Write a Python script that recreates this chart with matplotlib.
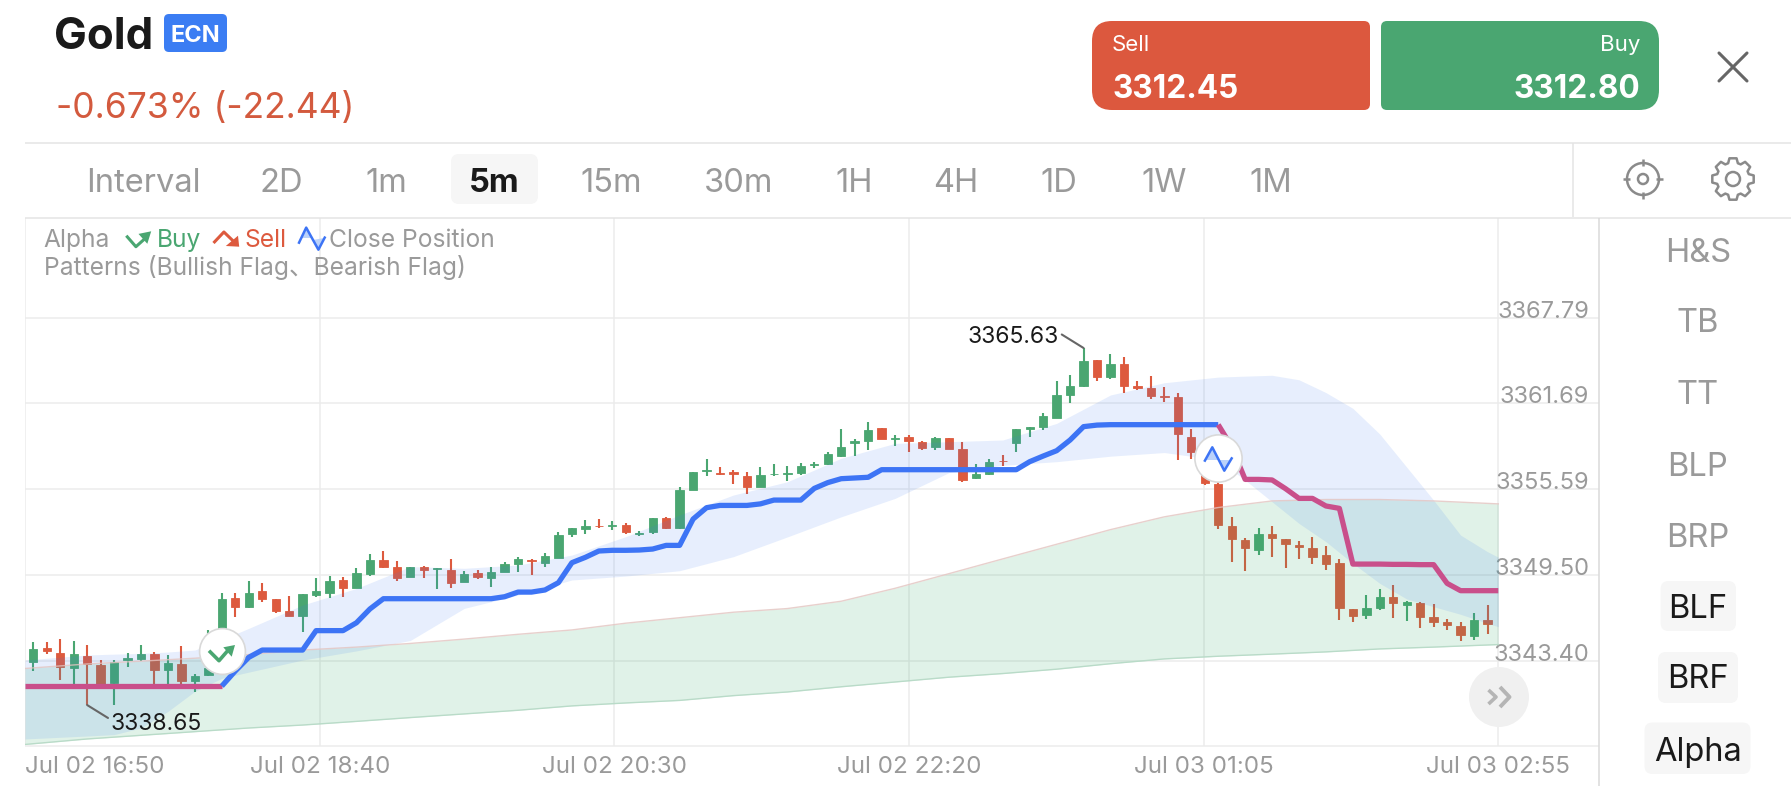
import numpy as np
import matplotlib
matplotlib.use("Agg")
import matplotlib.pyplot as plt
from matplotlib.patches import FancyBboxPatch, PathPatch, Circle, Polygon
from matplotlib.path import Path

plt.rcParams['font.family'] = ['Inter', 'Noto Sans CJK SC', 'DejaVu Sans']

W, H = 1791, 786
GREEN, RED, BLUE, PINK = '#4AA671', '#DD5A3E', '#3D74F5', '#C94F8B'
GREY, DARK, GRID = '#9A9A9A', '#1A1A1A', '#ECECEC'

opens = [
 3343.33,3344.28,3343.97,3342.91,3343.74,3343.10,3341.79,3343.45,3343.52,3343.88,
 3342.74,3343.14,3341.94,3342.39,3342.98,3347.83,3347.24,3348.36,3347.79,3346.96,
 3346.60,3348.07,3348.19,3349.14,3348.59,3349.59,3350.58,3350.04,3349.33,3350.09,
 3349.92,3349.85,3349.00,3349.66,3349.28,3349.68,3350.27,3350.56,3350.32,3350.72,
 3352.38,3352.74,3353.00,3352.95,3353.05,3352.43,3352.52,3353.52,3352.86,3355.53,
 3356.86,3356.77,3356.79,3356.55,3355.72,3356.65,3356.70,3356.72,3357.29,3357.38,
 3357.98,3358.85,3359.02,3359.94,3359.16,3359.28,3358.95,3358.57,3359.23,3358.42,
 3356.36,3356.67,3357.62,3358.90,3359.89,3359.99,3360.68,3362.31,3362.93,3364.75,
 3363.54,3364.51,3362.90,3362.77,3362.25,3362.17,3359.32,3357.67,3355.96,3353.00,
 3351.98,3351.27,3352.41,3352.03,3351.65,3351.41,3350.91,3350.37,3347.05,3346.67,
 3347.15,3347.93,3347.38,3347.53,3346.53,3346.15,3345.89,3345.18,3346.30]
closes = [
 3344.23,3344.11,3342.98,3343.85,3343.17,3341.60,3343.33,3343.57,3343.85,3342.74,
 3343.21,3341.98,3342.34,3342.86,3347.76,3347.24,3348.19,3347.79,3346.93,3346.60,
 3348.12,3348.38,3349.07,3348.59,3349.66,3350.58,3350.06,3349.26,3350.09,3349.85,
 3349.97,3348.95,3349.54,3349.33,3349.73,3350.25,3350.61,3350.51,3350.84,3352.31,
 3352.81,3352.97,3352.95,3353.05,3352.52,3352.48,3353.52,3352.86,3355.53,3356.79,
 3356.93,3356.69,3356.65,3355.72,3356.60,3356.70,3356.74,3357.24,3357.36,3358.07,
 3358.59,3359.04,3359.80,3359.14,3359.23,3358.99,3358.54,3359.21,3358.45,3356.25,
 3356.67,3357.55,3357.58,3359.85,3359.99,3360.79,3362.29,3362.95,3364.68,3363.59,
 3364.51,3362.93,3362.80,3362.25,3362.17,3359.51,3358.26,3356.06,3353.07,3352.05,
 3351.39,3352.38,3352.12,3351.67,3351.48,3350.80,3350.27,3347.17,3346.58,3347.17,
 3347.91,3347.48,3347.55,3346.53,3346.15,3345.92,3345.25,3346.30,3346.03]
highs = [
 3344.71,3344.71,3344.94,3344.80,3344.52,3343.45,3343.45,3343.93,3344.54,3344.00,
 3343.81,3344.42,3342.46,3345.56,3348.19,3348.19,3349.09,3348.95,3347.79,3348.02,
 3348.12,3349.26,3349.42,3349.37,3349.97,3350.97,3351.23,3350.49,3350.09,3350.13,
 3349.97,3350.63,3349.78,3349.85,3350.09,3350.39,3350.80,3350.61,3351.03,3352.52,
 3352.86,3353.40,3353.45,3353.33,3353.21,3352.60,3353.54,3353.62,3355.72,3356.79,
 3357.76,3357.19,3356.93,3356.84,3357.19,3357.38,3357.26,3357.48,3357.52,3358.24,
 3359.87,3359.14,3360.34,3359.94,3359.42,3359.42,3359.02,3359.28,3359.23,3358.92,
 3357.36,3357.74,3358.02,3359.89,3359.99,3361.01,3363.28,3363.71,3365.63,3364.80,
 3365.20,3364.96,3363.27,3363.63,3362.85,3362.41,3359.85,3357.90,3356.24,3353.64,
 3352.10,3352.81,3352.98,3352.03,3351.91,3352.19,3351.55,3350.65,3347.05,3348.07,
 3348.52,3348.78,3347.67,3347.57,3347.46,3346.37,3346.18,3346.77,3347.34]
lows = [
 3342.69,3343.88,3342.03,3341.60,3340.25,3341.37,3340.25,3342.93,3343.40,3341.75,
 3341.75,3341.75,3341.20,3342.31,3342.86,3346.48,3347.12,3347.60,3346.81,3346.60,
 3345.46,3347.91,3347.88,3347.95,3348.54,3349.40,3349.98,3349.09,3349.33,3349.30,
 3348.47,3348.55,3349.00,3349.19,3348.64,3349.68,3349.73,3349.52,3350.09,3350.68,
 3352.19,3352.43,3352.81,3352.69,3352.41,3352.24,3352.41,3352.74,3352.74,3355.53,
 3356.55,3356.58,3355.96,3355.25,3355.72,3356.53,3356.17,3356.62,3357.10,3357.29,
 3357.88,3357.98,3358.38,3359.14,3358.69,3358.21,3358.35,3358.35,3358.45,3356.13,
 3356.34,3356.62,3357.24,3358.21,3359.33,3359.80,3360.63,3361.74,3362.88,3363.28,
 3363.45,3362.45,3362.67,3361.99,3361.81,3357.68,3357.74,3355.89,3352.74,3350.44,
 3349.80,3350.91,3350.80,3350.01,3350.65,3350.30,3349.82,3346.27,3346.13,3346.39,
 3346.98,3346.44,3346.20,3345.73,3345.82,3345.56,3344.83,3344.85,3345.28]
signal_line = [
 3341.60,3341.60,3341.60,3341.60,3341.60,3341.60,3341.60,3341.60,3341.60,3341.60,
 3341.60,3341.60,3341.60,3341.60,3341.60,3342.67,3343.64,3344.16,3344.16,3344.16,
 3344.16,3345.54,3345.54,3345.54,3346.10,3347.08,3347.81,3347.81,3347.81,3347.81,
 3347.81,3347.81,3347.81,3347.81,3347.81,3347.95,3348.28,3348.28,3348.43,3348.95,
 3350.37,3350.75,3351.20,3351.25,3351.25,3351.27,3351.34,3351.60,3351.60,3353.47,
 3354.28,3354.44,3354.44,3354.44,3354.55,3354.82,3354.82,3354.82,3355.65,3356.06,
 3356.34,3356.39,3356.44,3356.98,3356.98,3356.98,3356.98,3356.98,3356.98,3356.98,
 3356.98,3356.98,3356.98,3356.98,3357.55,3357.95,3358.33,3359.09,3360.04,3360.15,
 3360.18,3360.18,3360.18,3360.18,3360.18,3360.18,3360.18,3360.18,3360.18,3358.61,
 3356.29,3356.29,3356.25,3355.63,3354.94,3354.94,3354.40,3354.23,3350.27,3350.27,
 3350.27,3350.25,3350.25,3350.23,3350.23,3348.90,3348.38,3348.38,3348.38]

blue_x = [-0.617,4,6,8,10,12,14,16,20,24,28,32,36,40,44,48,52,56,60,64,68,72,76,80,84,88,
          90,92,94,96,98,100,102,104,106,108,108.8]
blue_upper = [3343.45,3343.81,3343.87,3343.92,3344.02,3344.16,3344.90,3345.70,3347.36,3348.54,3350.09,3349.97,3350.20,
              3350.91,3352.22,3353.76,3355.18,3356.12,3357.79,3358.85,3358.97,3359.09,3360.27,
              3362.29,3363.16,3363.56,3363.63,3363.69,3363.37,3362.46,3361.34,3359.51,3357.16,3354.81,3352.33,3351.15,3350.76]
blue_lower = [3337.84,3338.05,3338.15,3338.62,3339.80,3341.23,3342.15,3342.59,3343.45,3344.10,3344.84,3347.12,3348.07,
              3349.14,3349.42,3349.80,3350.80,3352.20,3353.63,3354.94,3356.77,3357.29,3357.55,
              3357.94,3358.20,3357.67,3356.24,3354.70,3353.16,3351.86,3350.32,3348.90,3347.79,3347.24,3346.70,3346.06,3345.82]
green_x = [-0.617,4,8,12,16,20,24,28,32,36,40,44,48,52,56,60,64,68,72,76,80,84,88,92,96,100,104,108.8]
green_upper = [3342.85,3343.17,3343.37,3343.58,3343.84,3344.16,3344.37,3344.63,3344.94,3345.28,
               3345.59,3346.07,3346.46,3346.85,3347.11,3347.63,3348.55,3349.59,3350.64,3351.68,
               3352.72,3353.63,3354.29,3354.76,3354.86,3354.86,3354.76,3354.55]
green_lower = [3337.45,3337.84,3338.10,3338.36,3338.62,3338.83,3339.09,3339.36,3339.62,3339.88,
               3340.19,3340.40,3340.58,3340.92,3341.18,3341.55,3341.89,3342.23,3342.49,3342.80,
               3343.19,3343.53,3343.72,3343.87,3344.03,3344.24,3344.37,3344.55]

price_ticks = [3343.40, 3349.50, 3355.59, 3361.69, 3367.79]
price_labels = ['3343.40', '3349.50', '3355.59', '3361.69', '3367.79']
time_ticks = [-0.617, 21.29, 43.16, 65.03, 86.94, 108.8]
time_labels = ['Jul 02 16:50', 'Jul 02 18:40', 'Jul 02 20:30', 'Jul 02 22:20', 'Jul 03 01:05', 'Jul 03 02:55']
intervals = ['2D', '1m', '5m', '15m', '30m', '1H', '4H', '1D', '1W', '1M']
interval_centers = [281, 386, 494, 611, 739, 854, 956, 1059, 1164, 1271]
menu_items = ['H&S', 'TB', 'TT', 'BLP', 'BRP', 'BLF', 'BRF', 'Alpha']
menu_centers = [250, 321, 393, 464, 535.5, 607, 677, 750]
BUY_INDEX, CLOSE_INDEX = 14, 88

fig = plt.figure(figsize=(W / 100, H / 100), dpi=100, facecolor='white')
ax = fig.add_axes([25 / W, 1 - 746 / H, (1599 - 25) / W, (746 - 218) / H], zorder=1)
ax.set_xlim(-0.617, 116.28)
ax.set_ylim(3337.34, 3374.87)
for s in ax.spines.values():
    s.set_visible(False)

ax.set_yticks(price_ticks, price_labels)
ax.set_xticks(time_ticks, time_labels)
ax.grid(True, color=GRID, lw=1.1)
ax.set_axisbelow(True)
ax.tick_params(axis='y', length=0, labelleft=False, labelright=True, pad=-7.2, labelsize=17, labelcolor=GREY)
ax.tick_params(axis='x', length=0, pad=7.5, labelsize=17.4, labelcolor=GREY)
for t in ax.get_yticklabels():
    t.set_ha('right')
    t.set_va('baseline')
ax.get_xticklabels()[0].set_ha('left')

idx = np.arange(len(opens))
o, c, h, l = map(np.array, (opens, closes, highs, lows))
cols = [GREEN if b >= a else RED for a, b in zip(o, c)]
ax.vlines(idx, l, h, colors=cols, lw=1.5, zorder=2)
ax.bar(idx, np.abs(c - o), bottom=np.minimum(o, c), width=0.62, color=cols,
       edgecolor=cols, linewidth=0.6, zorder=2)

ax.fill_between(green_x, green_lower, green_upper, color='#2FA868', alpha=0.15, lw=0, zorder=3)
ax.fill_between(blue_x, blue_lower, blue_upper, color='#3A78F2', alpha=0.12, lw=0, zorder=3)
ax.plot(green_x, green_upper, color='#E3C4C0', lw=1.0, alpha=0.8, zorder=3)
ax.plot(green_x, green_lower, color='#B9DBC8', lw=1.0, zorder=3)

line = np.array(signal_line)
LW = 3.8
ax.plot([-0.617] + list(idx[:BUY_INDEX + 1]), [line[0]] + list(line[:BUY_INDEX + 1]),
        color=PINK, lw=LW, zorder=4, solid_joinstyle='round', solid_capstyle='butt')
ax.plot(idx[BUY_INDEX:CLOSE_INDEX + 1], line[BUY_INDEX:CLOSE_INDEX + 1], color=BLUE, lw=LW,
        zorder=4, solid_joinstyle='round', solid_capstyle='butt')
ax.plot(list(idx[CLOSE_INDEX:]) + [108.8], list(line[CLOSE_INDEX:]) + [line[-1]], color=PINK, lw=LW,
        zorder=4, solid_joinstyle='round', solid_capstyle='butt')

ax.plot([BUY_INDEX], [3344.09], 'o', ms=33, mfc='white', mec='#D9D9D9', mew=1.2, zorder=6)
ax.plot([CLOSE_INDEX], [3357.79], 'o', ms=34, mfc='white', mec='#D9D9D9', mew=1.2, zorder=6)

ax.annotate('3338.65', xy=(4, lows[4]), xytext=(17, -13.7), textcoords='offset points',
            ha='left', va='center', fontsize=16.5, color=DARK, zorder=7,
            arrowprops=dict(arrowstyle='-', color='#666666', lw=1.5, shrinkA=0, shrinkB=0, relpos=(0, 0.7)))
ax.annotate('3365.63', xy=(78, highs[78]), xytext=(-17.7, 7.8), textcoords='offset points',
            ha='right', va='center', fontsize=16.5, color=DARK, zorder=7,
            arrowprops=dict(arrowstyle='-', color='#666666', lw=1.5, shrinkA=0, shrinkB=0, relpos=(1, 0.7)))

# ---- interface chrome, in pixel coordinates
ui = fig.add_axes([0, 0, 1, 1], zorder=2)
ui.set_xlim(0, W)
ui.set_ylim(H, 0)
ui.axis('off')
ui.patch.set_alpha(0)


def seg(xs, ys, color='#E4E4E4', lw=1.1, **k):
    ui.plot(xs, ys, color=color, lw=lw, solid_capstyle=k.pop('cap', 'butt'), **k)


def box(x0, y0, x1, y1, r, color):
    ui.add_patch(FancyBboxPatch((x0 + r, y0 + r), x1 - x0 - 2 * r, y1 - y0 - 2 * r,
                                boxstyle=f'round,pad={r},rounding_size={r}', fc=color, ec='none'))


def button(x0, y0, x1, y1, rl, rr, color):
    v = [(x0 + rl, y0), (x1 - rr, y0), (x1, y0), (x1, y0 + rr), (x1, y1 - rr), (x1, y1), (x1 - rr, y1),
         (x0 + rl, y1), (x0, y1), (x0, y1 - rl), (x0, y0 + rl), (x0, y0), (x0 + rl, y0)]
    code = [Path.MOVETO, Path.LINETO, Path.CURVE3, Path.CURVE3, Path.LINETO, Path.CURVE3, Path.CURVE3,
            Path.LINETO, Path.CURVE3, Path.CURVE3, Path.LINETO, Path.CURVE3, Path.CURVE3]
    ui.add_patch(PathPatch(Path(v, code), fc=color, ec='none'))


seg([25, W], [142.7, 142.7])
seg([25, W], [217.5, 217.5])
seg([25, 1599], [746, 746], color=GRID)
seg([1573, 1573], [143, 217])
seg([1599.3, 1599.3], [218, H], color='#DADADA')

ui.text(54.5, 37.5, 'Gold', fontsize=31.5, fontweight='bold', color=DARK, va='center', ha='left')
box(164, 14, 227, 52, 5, '#3B7DF3')
ui.text(195.5, 35.5, 'ECN', fontsize=17, fontweight='bold', color='white', va='center', ha='center')
ui.text(55.5, 108.5, '-0.673% (-22.44)', fontsize=25.5, color='#D35A3E', va='center', ha='left')

button(1092, 21, 1370, 110, 20, 6, '#DC583E')
button(1381, 21, 1659, 110, 6, 20, GREEN)
ui.text(1112, 45, 'Sell', fontsize=16, color='white', va='center', ha='left')
ui.text(1640, 45, 'Buy', fontsize=16, color='white', va='center', ha='right')
ui.text(1112, 89.5, '3312.45', fontsize=22.7, fontweight='bold', color='white', va='center', ha='left')
ui.text(1640, 89.5, '3312.80', fontsize=22.7, fontweight='bold', color='white', va='center', ha='right')
seg([1719, 1747], [53, 81], color='#666666', lw=2.2, cap='round')
seg([1719, 1747], [81, 53], color='#666666', lw=2.2, cap='round')

ui.text(143, 183.5, 'Interval', fontsize=23.5, color=GREY, va='center', ha='center')
box(451, 154, 538, 204, 8, '#F6F6F6')
for lab, xc in zip(intervals, interval_centers):
    on = lab == '5m'
    ui.text(xc, 183.5, lab, fontsize=23.5, color=DARK if on else GREY, va='center', ha='center',
            fontweight='bold' if on else 'normal')

ui.add_patch(Circle((1643, 179), 16, fc='none', ec='#8A8A8A', lw=1.8))
ui.add_patch(Circle((1643, 179), 5, fc='none', ec='#8A8A8A', lw=1.8))
seg([1623, 1630], [179, 179], color='#8A8A8A', lw=1.8)
seg([1656, 1663], [179, 179], color='#8A8A8A', lw=1.8)
seg([1643, 1643], [159, 166], color='#8A8A8A', lw=1.8)
seg([1643, 1643], [192, 199], color='#8A8A8A', lw=1.8)
gear = []
for k in range(8):
    a = 2 * np.pi * k / 8
    for da, r in [(-0.30, 16.5), (-0.17, 21), (0.17, 21), (0.30, 16.5)]:
        gear.append((1733 + r * np.cos(a + da), 179 + r * np.sin(a + da)))
ui.add_patch(Polygon(gear, closed=True, fc='none', ec='#8A8A8A', lw=1.8, joinstyle='round'))
ui.add_patch(Circle((1733, 179), 7, fc='none', ec='#8A8A8A', lw=1.8))

box(1660.6, 581, 1736, 631, 8, '#F6F6F6')
box(1658, 652, 1738, 703, 8, '#F6F6F6')
box(1644.5, 722.5, 1750.5, 774, 8, '#F6F6F6')
for k, (lab, yc) in enumerate(zip(menu_items, menu_centers)):
    ui.text(1698, yc + 3, lab, fontsize=23.5, color=DARK if k >= 5 else GREY, va='center', ha='center')

ui.text(43.5, 240.6, 'Alpha', fontsize=17.7, color=GREY, va='center', ha='left')
ui.text(157, 240.6, 'Buy', fontsize=17.7, color=GREEN, va='center', ha='left')
ui.text(244, 240.6, 'Sell', fontsize=17.7, color=RED, va='center', ha='left')
ui.text(329, 240.6, 'Close Position', fontsize=17.7, color=GREY, va='center', ha='left')
ui.text(44.5, 267.5, 'Patterns (Bullish Flag、Bearish Flag)', fontsize=17.7, color=GREY, va='center', ha='left')

seg([126.3, 135.9, 147.3], [235.7, 246.7, 236.5], color=GREEN, lw=2.2)
ui.add_patch(Polygon([(138.5, 233.9), (151.2, 231.3), (147.3, 243.8)], fc=GREEN, ec='none'))
seg([213.5, 223.9, 233.4], [243, 232, 241.2], color=RED, lw=2.2)
ui.add_patch(Polygon([(225.8, 246), (239.2, 246.7), (238, 235.7)], fc=RED, ec='none'))
ui.add_patch(Polygon([(301, 238), (306.2, 227.6), (312, 238)], fc='#BBD2FA', ec='none'))
ui.add_patch(Polygon([(313, 240), (318.4, 249.7), (324, 238)], fc='#BBD2FA', ec='none'))
seg([298.5, 306.2, 318.4, 325.3], [243.8, 227.6, 249.7, 236.5], color=BLUE, lw=1.8)

seg([209, 219, 228.3], [650.7, 660.7, 650], color=GREEN, lw=2.6)
ui.add_patch(Polygon([(223.3, 647.3), (235, 645), (231.7, 656.7)], fc=GREEN, ec='none'))
ui.add_patch(Polygon([(1206, 460), (1212.3, 447.3), (1219, 460)], fc='#BBD2FA', ec='none'))
ui.add_patch(Polygon([(1219, 460), (1224.3, 470.7), (1231, 460)], fc='#BBD2FA', ec='none'))
seg([1204.3, 1212.3, 1224.3, 1232.3], [461.7, 447.3, 470.7, 457.3], color=BLUE, lw=1.8)

ui.add_patch(Circle((1499, 697), 30, fc='#F0F0F0', ec='none'))
seg([1488.5, 1496, 1488.5], [690, 697, 704], color='#B5B5B5', lw=2.6)
seg([1500, 1509.5, 1500], [687, 697, 707], color='#B5B5B5', lw=2.8)

fig.savefig('out.png', dpi=100)
